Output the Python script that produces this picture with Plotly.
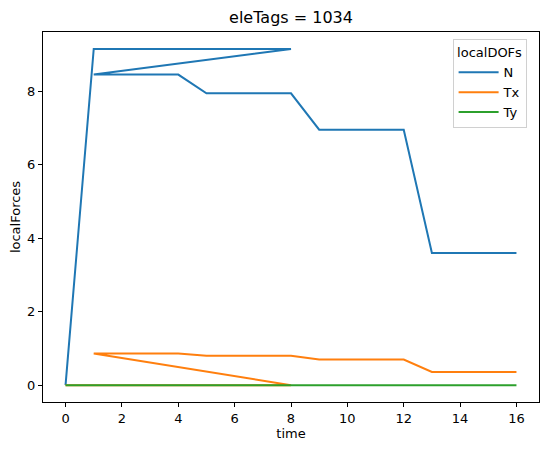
import plotly.graph_objects as go

time = [0, 1, 2, 3, 4, 5, 6, 7, 8,
        1, 2, 3, 4, 5, 6, 7, 8, 9, 10, 11, 12, 13, 14, 15, 16]
N = [0.0, 9.16, 9.16, 9.16, 9.16, 9.16, 9.16, 9.16, 9.16,
     8.46, 8.46, 8.46, 8.46, 7.95, 7.95, 7.95, 7.95,
     6.96, 6.96, 6.96, 6.96, 3.6, 3.6, 3.6, 3.6]
Tx = [0.0, 0.0, 0.0, 0.0, 0.0, 0.0, 0.0, 0.0, 0.0,
      0.86, 0.86, 0.86, 0.86, 0.80, 0.80, 0.80, 0.80,
      0.70, 0.70, 0.70, 0.70, 0.36, 0.36, 0.36, 0.36]
Ty = [0.0] * 25
series_names = ["N", "Tx", "Ty"]
colors = ["#1f77b4", "#ff7f0e", "#2ca02c"]

fig = go.Figure()
for name, vals, c in zip(series_names, [N, Tx, Ty], colors):
    fig.add_trace(go.Scatter(x=time, y=vals, mode="lines", name=name,
                             line=dict(color=c, width=2)))

# page body has an 8px margin; figure is sized to fit the 549x450 window
W, H = 541, 442
font = "DejaVu Sans, sans-serif"
axis_common = dict(showline=True, linecolor="black", linewidth=1, mirror=True,
                   ticks="outside", ticklen=4, tickcolor="black", showgrid=False,
                   zeroline=False, automargin=False,
                   tickfont=dict(size=13, color="black"))
fig.update_layout(
    width=W, height=H,
    margin=dict(l=35, r=10, t=24, b=48),
    paper_bgcolor="white", plot_bgcolor="white",
    font=dict(family=font, size=13, color="black"),
    title=dict(text="eleTags = 1034", x=((43 + 539) / 2 - 8) / W, xanchor="center",
               y=1 - 9 / H, yanchor="middle", font=dict(size=16, color="black")),
    xaxis=dict(range=[-0.8, 16.8], tickmode="linear", tick0=0, dtick=2,
               title=dict(text="time", font=dict(size=13), standoff=3), **axis_common),
    yaxis=dict(range=[-0.458, 9.62], tickmode="linear", tick0=0, dtick=2,
               title=dict(text="localForces", font=dict(size=13), standoff=8), **axis_common),
    legend=dict(x=0.975, y=0.98, xanchor="right", yanchor="top",
                bordercolor="#d0d0d0", borderwidth=1, bgcolor="rgba(255,255,255,0.8)",
                title=dict(text="localDOFs", side="top center", font=dict(size=13)),
                font=dict(size=13), tracegroupgap=0, itemwidth=40),
    showlegend=True,
)
fig.write_html("out.html")
